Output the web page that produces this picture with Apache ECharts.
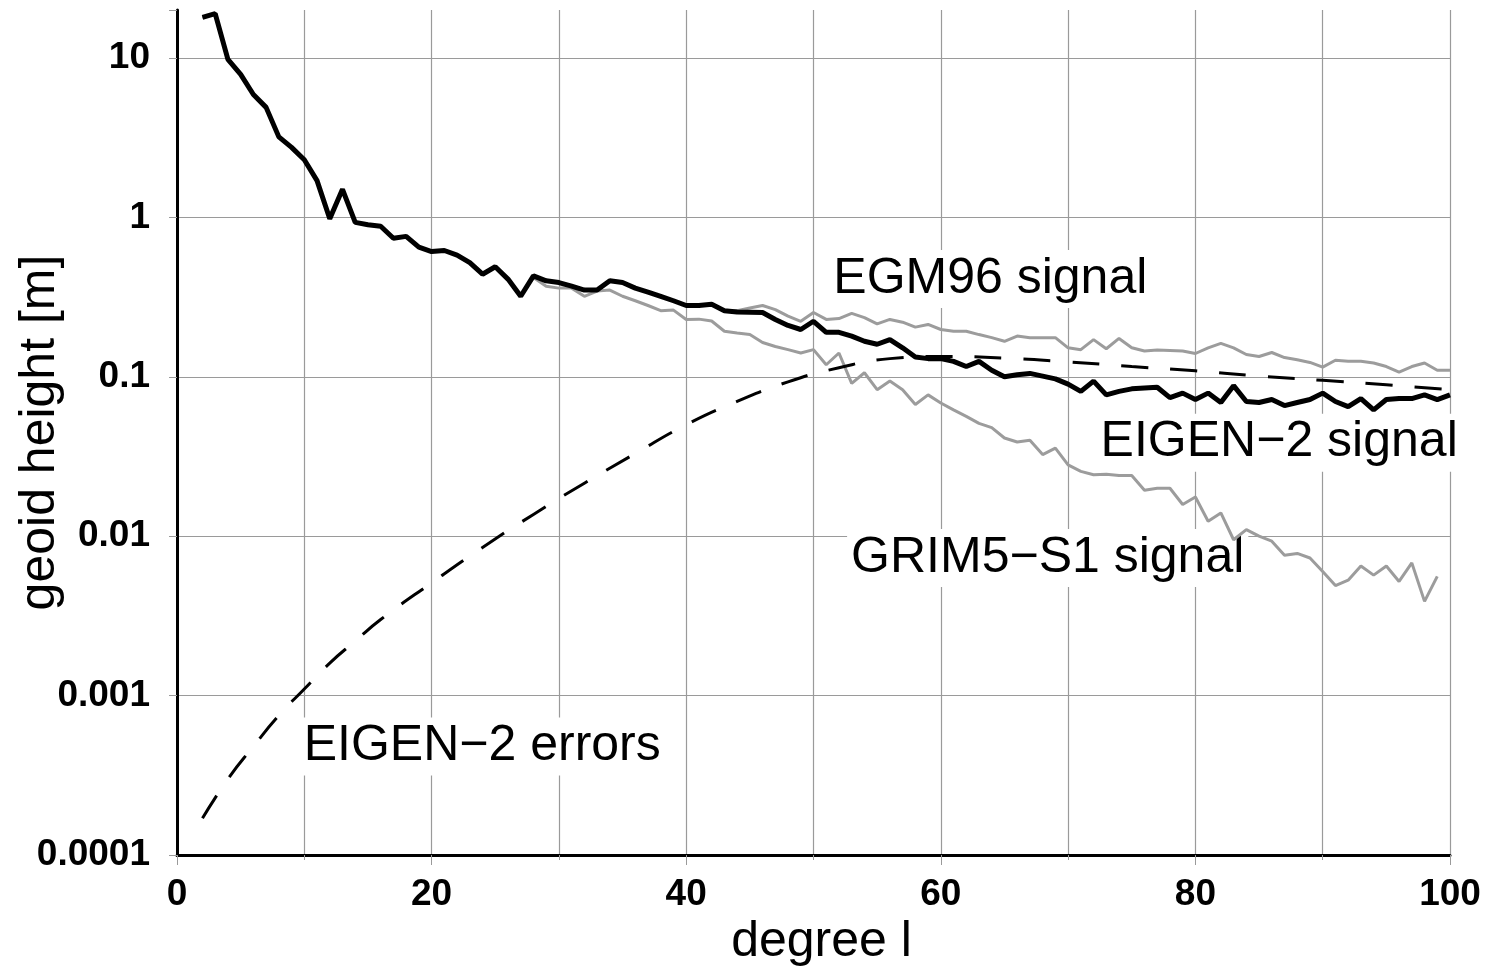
<!DOCTYPE html>
<html>
<head>
<meta charset="utf-8">
<title>geoid height spectra</title>
<script src="https://cdn.jsdelivr.net/npm/echarts@6/dist/echarts.min.js"></script>
<style>
  html, body { margin: 0; padding: 0; background: #fff; }
  #chart { width: 1488px; height: 972px; }
</style>
</head>
<body>
<div id="chart"></div>
<script>
// degree l, 2..100
const degrees = [
  2, 3, 4, 5, 6, 7, 8, 9, 10, 11, 12, 13, 14, 15, 16, 17, 18, 19, 20, 21,
  22, 23, 24, 25, 26, 27, 28, 29, 30, 31, 32, 33, 34, 35, 36, 37, 38, 39, 40, 41,
  42, 43, 44, 45, 46, 47, 48, 49, 50, 51, 52, 53, 54, 55, 56, 57, 58, 59, 60, 61,
  62, 63, 64, 65, 66, 67, 68, 69, 70, 71, 72, 73, 74, 75, 76, 77, 78, 79, 80, 81,
  82, 83, 84, 85, 86, 87, 88, 89, 90, 91, 92, 93, 94, 95, 96, 97, 98, 99, 100
];

// EIGEN-2 signal (black), degree 2..100
const eigen2Signal = [
  18, 19, 9.8, 7.9, 5.9, 4.9, 3.2, 2.75, 2.3, 1.7,
  0.98, 1.5, 0.93, 0.9, 0.88, 0.74, 0.76, 0.65, 0.61, 0.62,
  0.58, 0.52, 0.44, 0.49, 0.41, 0.32, 0.43, 0.40, 0.39, 0.37,
  0.35, 0.35, 0.40, 0.39, 0.36, 0.34, 0.32, 0.30, 0.28, 0.28,
  0.285, 0.26, 0.255, 0.254, 0.253, 0.229, 0.21, 0.198, 0.223, 0.19,
  0.19, 0.18, 0.167, 0.16, 0.171, 0.152, 0.133, 0.13, 0.13, 0.125,
  0.116, 0.125, 0.11, 0.10, 0.103, 0.105, 0.101, 0.097, 0.09, 0.081,
  0.094, 0.077, 0.081, 0.084, 0.085, 0.086, 0.074, 0.079, 0.072, 0.079,
  0.069, 0.088, 0.07, 0.069, 0.072, 0.066, 0.069, 0.072, 0.079, 0.07,
  0.065, 0.073, 0.062, 0.072, 0.073, 0.073, 0.077, 0.072, 0.077
];

// EGM96 signal (grey), degree 2..100
const egm96Signal = [
  18, 19, 9.8, 7.9, 5.9, 4.9, 3.2, 2.75, 2.3, 1.7,
  0.98, 1.5, 0.93, 0.9, 0.88, 0.74, 0.76, 0.65, 0.61, 0.62,
  0.58, 0.52, 0.44, 0.49, 0.41, 0.32, 0.43, 0.40, 0.39, 0.37,
  0.35, 0.35, 0.40, 0.39, 0.36, 0.34, 0.32, 0.30, 0.28, 0.28,
  0.285, 0.26, 0.26, 0.27, 0.28, 0.264, 0.24, 0.223, 0.253, 0.229,
  0.232, 0.25, 0.235, 0.215, 0.229, 0.22, 0.205, 0.213, 0.198, 0.193,
  0.193, 0.184, 0.176, 0.167, 0.18, 0.176, 0.176, 0.176, 0.152, 0.148,
  0.171, 0.15, 0.174, 0.152, 0.145, 0.147, 0.146, 0.145, 0.14, 0.152,
  0.162, 0.152, 0.138, 0.134, 0.142, 0.132, 0.128, 0.123, 0.115, 0.127,
  0.125, 0.125, 0.122, 0.116, 0.107, 0.116, 0.122, 0.11, 0.11
];

// GRIM5-S1 signal (grey), degree 2..99
const grim5Signal = [
  18, 19, 9.8, 7.9, 5.9, 4.9, 3.2, 2.75, 2.3, 1.7,
  0.98, 1.5, 0.93, 0.9, 0.88, 0.74, 0.76, 0.65, 0.61, 0.62,
  0.58, 0.52, 0.44, 0.49, 0.41, 0.32, 0.42, 0.37, 0.36, 0.36,
  0.32, 0.345, 0.35, 0.32, 0.30, 0.28, 0.26, 0.262, 0.229, 0.23,
  0.224, 0.193, 0.188, 0.184, 0.164, 0.155, 0.148, 0.141, 0.148, 0.119,
  0.141, 0.091, 0.106, 0.083, 0.094, 0.083, 0.067, 0.077, 0.0685, 0.062,
  0.0565, 0.051, 0.048, 0.0413, 0.039, 0.040, 0.0325, 0.0357, 0.028, 0.0255,
  0.0243, 0.0245, 0.024, 0.024, 0.0194, 0.020, 0.020, 0.0158, 0.0176, 0.0124,
  0.014, 0.0095, 0.011, 0.010, 0.0093, 0.0076, 0.0078, 0.0073, 0.006, 0.0049,
  0.0053, 0.0065, 0.0057, 0.0065, 0.0052, 0.0068, 0.0039, 0.0056
];

// EIGEN-2 errors (dashed)
const errorDegrees = [2, 4, 6, 8, 10, 12, 14, 16, 20, 24, 28, 32, 36, 40, 44, 48, 52, 56, 60, 65, 70, 75, 80, 85, 90, 95, 100];
const eigen2Errors = [
  0.00017, 0.0003, 0.00048, 0.00075, 0.0011, 0.0016, 0.0022, 0.003, 0.0051,
  0.0085, 0.0137, 0.0215, 0.033, 0.05, 0.07, 0.093, 0.114, 0.13, 0.134,
  0.131, 0.124, 0.116, 0.109, 0.101, 0.095, 0.089, 0.083
];

const pairs = (xs, ys) => ys.map((v, i) => [xs[i], v]);

const font = 'Liberation Sans, Arial, Helvetica, sans-serif';
const gridColor = '#9a9a9a';
const greyLine = '#9c9c9c';

// text annotation anchored (left-middle) at a data coordinate
const annotation = (text, coord) => ({
  coord: coord,
  symbol: 'circle',
  symbolSize: 1,
  itemStyle: { color: 'rgba(0,0,0,0)' },
  label: {
    show: true,
    formatter: text,
    position: 'right',
    distance: 0,
    color: '#000',
    fontFamily: font,
    fontSize: 50,
    backgroundColor: '#fff',
    padding: [4, 4]
  }
});

const chart = echarts.init(document.getElementById('chart'));

chart.setOption({
  backgroundColor: '#fff',
  animation: false,
  grid: { left: 177, right: 38, top: 10, bottom: 117, containLabel: false, outerBoundsMode: 'none' },
  xAxis: {
    type: 'value',
    min: 0,
    max: 100,
    interval: 20,
    name: 'degree l',
    nameLocation: 'middle',
    nameGap: 62,
    nameMoveOverlap: false,
    nameTextStyle: { fontFamily: font, fontSize: 50, color: '#000', padding: [0, 0, 0, 16] },
    axisLine: { lineStyle: { color: '#000', width: 3 } },
    axisTick: { length: 10, lineStyle: { color: gridColor, width: 1 } },
    minorTick: { show: true, splitNumber: 2, length: 5, lineStyle: { color: gridColor, width: 1 } },
    axisLabel: { fontFamily: font, fontSize: 37, fontWeight: 'bold', color: '#000', margin: 21 },
    splitLine: { show: true, lineStyle: { color: gridColor, width: 1.2 } },
    minorSplitLine: { show: true, lineStyle: { color: gridColor, width: 1.2 } }
  },
  yAxis: {
    type: 'log',
    logBase: 10,
    min: 0.0001,
    max: 20,
    name: 'geoid height [m]',
    nameLocation: 'middle',
    nameRotate: 90,
    nameGap: 112,
    nameMoveOverlap: false,
    nameTextStyle: { fontFamily: font, fontSize: 50, color: '#000' },
    axisLine: { lineStyle: { color: '#000', width: 3 } },
    axisTick: { length: 8, lineStyle: { color: gridColor, width: 1 } },
    axisLabel: {
      fontFamily: font, fontSize: 37, fontWeight: 'bold', color: '#000', margin: 27,
      formatter: (v) => {
        const l = Math.log10(v);
        if (Math.abs(l - Math.round(l)) > 1e-6) return '';
        return String(+Math.pow(10, Math.round(l)).toFixed(4));
      }
    },
    splitLine: { show: true, showMaxLine: false, lineStyle: { color: gridColor, width: 1.2 } }
  },
  series: [
    {
      name: 'EGM96 signal',
      type: 'line',
      data: pairs(degrees, egm96Signal),
      showSymbol: false,
      symbol: 'none',
      lineStyle: { color: greyLine, width: 3 },
      z: 2,
      markPoint: {
        silent: true,
        z: 1,
        data: [annotation('EGM96 signal', [51.2, 0.41])]
      }
    },
    {
      name: 'GRIM5-S1 signal',
      type: 'line',
      data: pairs(degrees, grim5Signal),
      showSymbol: false,
      symbol: 'none',
      lineStyle: { color: greyLine, width: 3 },
      z: 2,
      markPoint: {
        silent: true,
        z: 1,
        data: [annotation('GRIM5\u2212S1 signal', [52.6, 0.0073])]
      }
    },
    {
      name: 'EIGEN-2 signal',
      type: 'line',
      data: pairs(degrees, eigen2Signal),
      showSymbol: false,
      symbol: 'none',
      lineStyle: { color: '#000', width: 5 },
      z: 3,
      markPoint: {
        silent: true,
        z: 1,
        data: [annotation('EIGEN\u22122 signal', [72.2, 0.0386])]
      }
    },
    {
      name: 'EIGEN-2 errors',
      type: 'line',
      data: pairs(errorDegrees, eigen2Errors),
      smooth: true,
      showSymbol: false,
      symbol: 'none',
      lineStyle: { color: '#000', width: 3, type: [27, 22] },
      z: 4,
      markPoint: {
        silent: true,
        z: 1,
        data: [annotation('EIGEN\u22122 errors', [9.6, 0.00048])]
      }
    }
  ]
});
</script>
</body>
</html>
